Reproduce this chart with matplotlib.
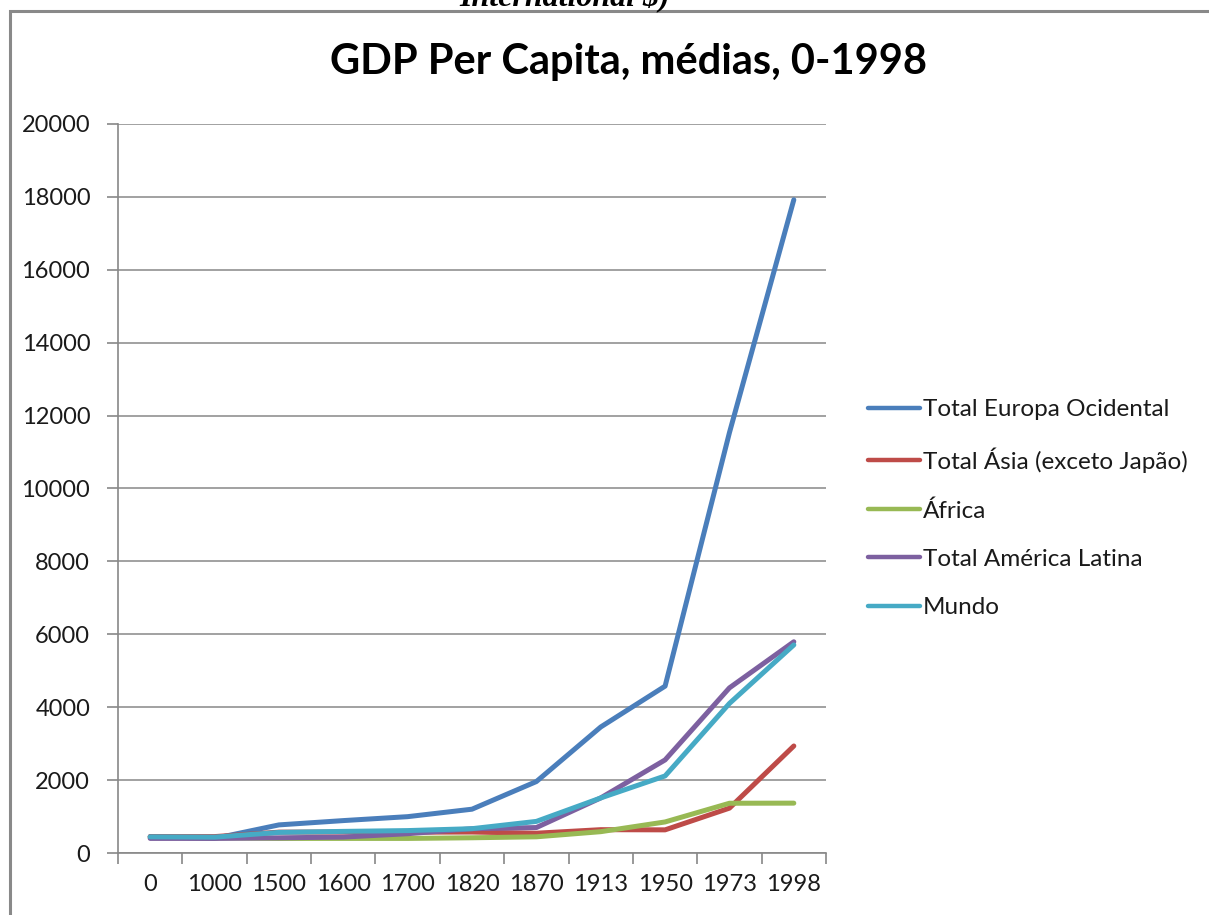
import matplotlib
matplotlib.use('Agg')
import matplotlib.pyplot as plt
from matplotlib.patches import Rectangle

plt.rcParams['font.family'] = ['Lato', 'DejaVu Sans']

years = ['0', '1000', '1500', '1600', '1700', '1820', '1870', '1913', '1950', '1973', '1998']

europa_ocidental = [450, 400, 771, 889, 997, 1202, 1960, 3457, 4578, 11534, 17921]
asia_sem_japao = [450, 450, 572, 575, 571, 575, 543, 640, 635, 1231, 2936]
africa = [425, 416, 400, 400, 400, 418, 444, 585, 852, 1365, 1368]
america_latina = [400, 400, 416, 437, 529, 665, 698, 1511, 2554, 4531, 5795]
mundo = [444, 435, 565, 593, 615, 667, 867, 1510, 2114, 4104, 5709]

series = [
    ('Total Europa Ocidental', europa_ocidental, '#4a7ebb'),
    ('Total Ásia (exceto Japão)', asia_sem_japao, '#be4b48'),
    ('África', africa, '#98b954'),
    ('Total América Latina', america_latina, '#7d60a0'),
    ('Mundo', mundo, '#46aac5'),
]

W, H = 1209, 915
fig = plt.figure(figsize=(W / 100, H / 100), dpi=100)

# chart frame (only top and left edges fall inside the image)
fig.patches.append(Rectangle((10 / W, -0.05), 1.2, 1 - 11 / H + 0.05,
                             transform=fig.transFigure, fill=False,
                             edgecolor='#898989', linewidth=2.2))

# leftover caption line from the page above
fig.text(565 / W, 1 - 6 / H, 'International $)', ha='center', va='baseline',
         family='Liberation Serif', fontweight='bold', fontstyle='italic',
         fontsize=23)

ax = fig.add_axes([118 / W, 1 - 853 / H, (826 - 118) / W, (853 - 124) / H])
x = list(range(len(years)))
for name, vals, color in series:
    ax.plot(x, vals, color=color, linewidth=3.6, label=name,
            solid_capstyle='round', solid_joinstyle='round')

ax.set_xlim(-0.5, len(years) - 0.5)
ax.set_ylim(0, 20000)
ax.set_yticks(range(0, 20001, 2000))
ax.set_yticklabels([str(v) for v in range(0, 20001, 2000)])
ax.set_xticks([i - 0.5 for i in range(len(years) + 1)], minor=False)
ax.set_xticklabels([''] * (len(years) + 1))
ax.set_xticks(x, minor=True)
ax.set_xticklabels(years, minor=True)
ax.tick_params(axis='x', which='major', length=8, width=1.2, color='#888888',
               direction='out')
ax.tick_params(axis='x', which='minor', length=0, pad=15, labelsize=17,
               labelcolor='#1a1a1a')
ax.tick_params(axis='y', length=8, width=1.2, color='#888888', direction='out',
               pad=12, labelsize=17, labelcolor='#1a1a1a')

ax.grid(axis='y', color='#888888', linewidth=1.1)
ax.set_axisbelow(True)
for side in ['top', 'right']:
    ax.spines[side].set_visible(False)
for side in ['left', 'bottom']:
    ax.spines[side].set_color('#888888')
    ax.spines[side].set_linewidth(1.2)

fig.text(629 / W, 1 - 62 / H, 'GDP Per Capita, médias, 0-1998', ha='center',
         va='center', fontsize=30, fontweight='bold', color='black')

leg = ax.legend(loc='center left', bbox_to_anchor=(1.028, 0.4725), frameon=False,
                fontsize=17.5, handlelength=2.15, handletextpad=0.12,
                labelspacing=1.12)
for line in leg.get_lines():
    line.set_linewidth(3.2)
for t in leg.get_texts():
    t.set_color('#1a1a1a')

fig.savefig('out.png', dpi=100, facecolor='white')
